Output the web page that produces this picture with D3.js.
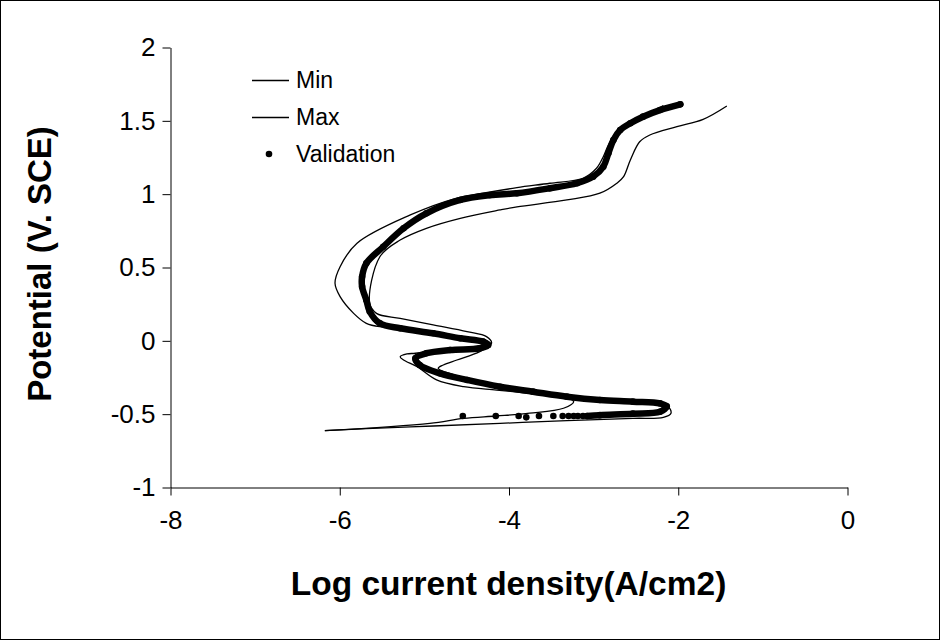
<!DOCTYPE html>
<html>
<head>
<meta charset="utf-8">
<script src="https://cdn.jsdelivr.net/npm/d3@7"></script>
<style>
  body { margin: 0; background: #fff; }
  text { font-family: "Liberation Sans", Arial, sans-serif; fill: #000; }
</style>
</head>
<body>
<div id="chart"></div>
<script>
// Data: [log current density, potential]
var minCurve = [[-6.17,-0.616],[-4.93,-0.566],[-4.53,-0.532],[-4.14,-0.516],[-3.75,-0.497],[-3.35,-0.463],
  [-3.23,-0.418],[-3.35,-0.384],[-3.75,-0.361],[-4.14,-0.339],[-4.53,-0.316],[-4.85,-0.270],[-5.08,-0.180],
  [-5.24,-0.134],[-5.28,-0.112],[-5.20,-0.093],[-5.10,-0.088],[-4.69,-0.060],[-4.34,-0.040],[-4.22,-0.022],
  [-4.28,0.0],[-4.57,0.026],[-4.89,0.060],[-5.28,0.088],[-5.52,0.093],[-5.68,0.116],[-5.83,0.184],
  [-5.99,0.298],[-6.05,0.389],[-5.99,0.502],[-5.79,0.662],[-5.16,0.855],[-4.63,0.967],[-4.30,1.003],
  [-3.90,1.041],[-3.51,1.071],[-3.12,1.105],[-2.96,1.173],[-2.88,1.252],[-2.82,1.332],[-2.72,1.422],
  [-2.56,1.480],[-2.37,1.536],[-2.17,1.60]];

var maxCurve = [[-6.17,-0.616],[-5.68,-0.602],[-4.89,-0.584],[-4.10,-0.566],[-3.31,-0.548],[-2.53,-0.532],
  [-2.17,-0.525],[-2.08,-0.497],[-2.12,-0.448],[-2.21,-0.424],[-2.53,-0.41],[-2.92,-0.40],[-3.31,-0.376],
  [-3.71,-0.343],[-4.10,-0.308],[-4.49,-0.260],[-4.83,-0.191],[-4.77,-0.168],[-4.61,-0.134],[-4.34,-0.077],
  [-4.20,-0.020],[-4.26,0.025],[-4.49,0.059],[-4.89,0.105],[-5.28,0.150],[-5.56,0.184],[-5.64,0.253],
  [-5.52,0.570],[-5.28,0.684],[-4.97,0.764],[-4.57,0.832],[-4.10,0.889],[-3.90,0.910],[-3.31,0.957],
  [-2.92,1.003],[-2.72,1.071],[-2.64,1.116],[-2.56,1.230],[-2.45,1.354],[-2.33,1.400],[-2.01,1.457],
  [-1.70,1.507],[-1.42,1.598]];

// validation: isolated points at the start, then the dense trace
var validationDots = [[-4.54,-0.516],[-4.15,-0.516],[-3.88,-0.516],[-3.79,-0.525],[-3.64,-0.516],
  [-3.47,-0.516],[-3.36,-0.516],[-3.29,-0.516],[-3.23,-0.516],[-3.18,-0.516],[-3.12,-0.516]];

var validationTrace = [[-3.07,-0.516],[-2.92,-0.51],[-2.53,-0.50],[-2.21,-0.487],[-2.13,-0.45],[-2.21,-0.43],
  [-2.53,-0.418],[-2.92,-0.407],[-3.31,-0.384],[-3.71,-0.350],[-4.10,-0.316],[-4.49,-0.270],[-4.81,-0.225],
  [-5.05,-0.168],[-5.10,-0.123],[-4.97,-0.088],[-4.69,-0.066],[-4.34,-0.054],[-4.24,-0.032],[-4.30,-0.009],
  [-4.57,0.014],[-4.89,0.048],[-5.28,0.082],[-5.52,0.116],[-5.64,0.197],[-5.68,0.275],[-5.73,0.366],
  [-5.73,0.434],[-5.68,0.525],[-5.48,0.638],[-5.24,0.764],[-4.97,0.866],[-4.57,0.957],[-4.22,0.99],
  [-3.90,1.003],[-3.51,1.037],[-3.19,1.071],[-3.00,1.116],[-2.88,1.184],[-2.82,1.275],[-2.76,1.366],
  [-2.68,1.434],[-2.56,1.480],[-2.41,1.525],[-2.21,1.570],[-1.97,1.609]];

var xTicks = [-8, -6, -4, -2, 0];
var yTicks = [-1, -0.5, 0, 0.5, 1, 1.5, 2];
var legendLabels = ["Min", "Max", "Validation"];

var svgWidth = 940;
var svgHeight = 640;

var margin = {
  top: 47,
  right: 93,
  bottom: 153,
  left: 170
};

var width = svgWidth - margin.left - margin.right;
var height = svgHeight - margin.top - margin.bottom;

var svg = d3.select("#chart")
  .append("svg")
  .attr("width", svgWidth)
  .attr("height", svgHeight);

// outer frame
svg.append("rect")
  .attr("x", 0.5)
  .attr("y", 0.5)
  .attr("width", svgWidth - 1)
  .attr("height", svgHeight - 1)
  .attr("fill", "#fff")
  .attr("stroke", "#000");

var chartGroup = svg.append("g")
  .attr("transform", `translate(${margin.left}, ${margin.top})`);

//Scale
var xLinearScale = d3.scaleLinear()
  .domain([-8, 0])
  .range([0, width]);

var yLinearScale = d3.scaleLinear()
  .domain([-1, 2])
  .range([height, 0]);

//Axis
var bottomAxis = d3.axisBottom(xLinearScale)
  .tickValues(xTicks)
  .tickSize(8)
  .tickSizeOuter(0)
  .tickPadding(15)
  .tickFormat(d => String(d));

var leftAxis = d3.axisLeft(yLinearScale)
  .tickValues(yTicks)
  .tickSize(8)
  .tickSizeOuter(0)
  .tickPadding(7)
  .tickFormat(d => String(d));

var xAxisG = chartGroup.append("g")
  .attr("transform", `translate(0.5, ${height + 0.5})`)
  .call(bottomAxis);

var yAxisG = chartGroup.append("g")
  .attr("transform", "translate(0.5, 0.5)")
  .call(leftAxis);

[xAxisG, yAxisG].forEach(function (g) {
  g.selectAll("path, line").attr("stroke", "#000").attr("stroke-width", 1);
  g.selectAll("text")
    .style("font-family", "'Liberation Sans', Arial, sans-serif")
    .style("font-size", "26px")
    .attr("fill", "#000");
});

//Lines
var line = d3.line()
  .x(d => xLinearScale(d[0]))
  .y(d => yLinearScale(d[1]))
  .curve(d3.curveCatmullRom.alpha(0.5));

[minCurve, maxCurve].forEach(function (c) {
  chartGroup.append("path")
    .datum(c)
    .attr("d", line)
    .attr("fill", "none")
    .attr("stroke", "#000")
    .attr("stroke-width", 1.3);
});

//Marks
chartGroup.append("path")
  .datum(validationTrace)
  .attr("d", line)
  .attr("fill", "none")
  .attr("stroke", "#000")
  .attr("stroke-width", 6.5)
  .attr("stroke-linecap", "round")
  .attr("stroke-linejoin", "round");

chartGroup.selectAll(".vdot")
  .data(validationDots.concat(validationTrace))
  .enter()
  .append("circle")
  .attr("class", "vdot")
  .attr("cx", d => xLinearScale(d[0]))
  .attr("cy", d => yLinearScale(d[1]))
  .attr("r", 3.3)
  .attr("fill", "#000");

//Legend
var legend = svg.append("g")
  .attr("transform", "translate(252, 80)");

legendLabels.forEach(function (label, i) {
  var row = legend.append("g")
    .attr("transform", `translate(0, ${i * 37})`);
  if (i < 2) {
    row.append("line")
      .attr("x1", 0)
      .attr("x2", 37)
      .attr("y1", 0.5)
      .attr("y2", 0.5)
      .attr("stroke", "#000")
      .attr("stroke-width", 1.3);
  } else {
    row.append("circle")
      .attr("cx", 17)
      .attr("cy", 0)
      .attr("r", 3.3)
      .attr("fill", "#000");
  }
  row.append("text")
    .attr("x", 44)
    .attr("y", 0)
    .attr("dy", "0.35em")
    .style("font-size", "23px")
    .text(label);
});

//Labels
chartGroup.append("text")
  .attr("transform", "rotate(-90)")
  .attr("y", 0 - margin.left + 39)
  .attr("x", 0 - (height / 2) + 3)
  .attr("dy", "0.35em")
  .attr("text-anchor", "middle")
  .style("font-weight", "bold")
  .style("font-size", "33px")
  .text("Potential (V. SCE)");

chartGroup.append("text")
  .attr("transform", `translate(${width / 2}, ${height + 96})`)
  .attr("dy", "0.35em")
  .attr("text-anchor", "middle")
  .style("font-weight", "bold")
  .style("font-size", "33.5px")
  .text("Log current density(A/cm2)");
</script>
</body>
</html>
